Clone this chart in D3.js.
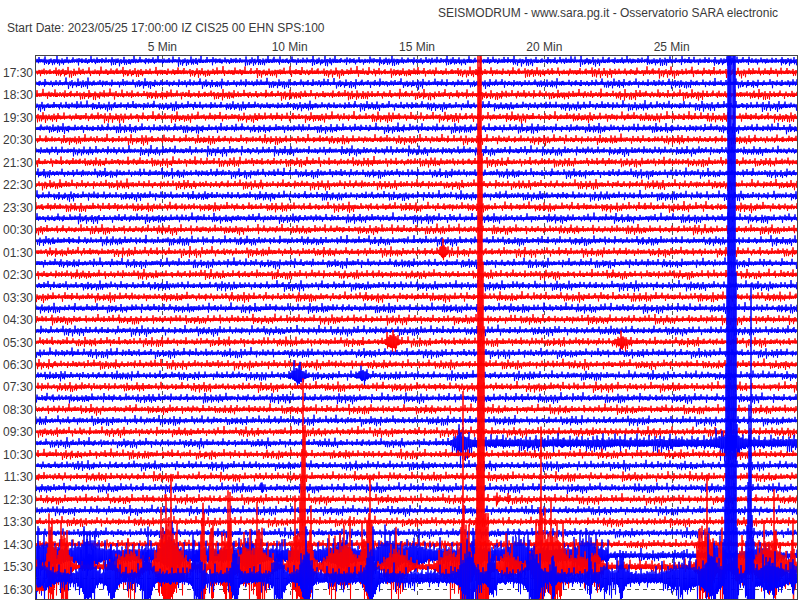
<!DOCTYPE html>
<html><head><meta charset="utf-8">
<script src="https://cdn.jsdelivr.net/npm/d3@7"></script>
<style>body{margin:0;background:#fff}svg{display:block}text{font-family:"Liberation Sans",Arial,sans-serif;font-size:12px;fill:#3a3a3a}</style>
</head><body><svg id="c" width="800" height="600"></svg>
<script>
const titleText = "SEISMODRUM - www.sara.pg.it - Osservatorio SARA electronic";
const headerText = "Start Date: 2023/05/25 17:00:00 IZ CIS25 00 EHN  SPS:100";
const minuteTicks = [5, 10, 15, 20, 25];
const tickLabels = ["5 Min", "10 Min", "15 Min", "20 Min", "25 Min"];
const hourLabels = ["17:30","18:30","19:30","20:30","21:30","22:30","23:30","00:30","01:30","02:30","03:30","04:30",
                    "05:30","06:30","07:30","08:30","09:30","10:30","11:30","12:30","13:30","14:30","15:30","16:30"];
const traceColors = ["#0000ff", "#ff0000"];
// background noise level of each 30-min trace (17:00 ... 16:30)
const noiseLevel = [1,1.05,1,1.05,1,1.05,1,1,1,1, 1,1,1,1,1,1,1,1,1,1, 1,1,1,1,1,1,1,1,1,1,
                    1,1,1,1,1,1,1,1,1,1, 1,1,1,1,1,1.1,1,1];
// [trace, from minute, to minute, extra level]
const noiseSteps = [[44, 0, 22.5, 2.3], [44, 22.5, 30, 0.3], [46, 0, 30, 1.7], [45, 0, 30, 0.3], [34, 16.6, 30, 1.0]];
// [trace, minute, half width (min), amplitude]
const events = [
  [17, 16.02, 0.12, 3.0],
  [25, 14.02, 0.2, 3.2], [25, 23.05, 0.2, 1.8],
  [28, 10.33, 0.25, 3.0], [28, 12.88, 0.18, 2.1],
  [34, 16.69, 0.3, 3.0], [34, 27.29, 0.5, 2.6],
  [38, 8.91, 0.05, 2.4],
  [39, 18.14, 0.05, 1.7], [39, 18.57, 0.05, 1.7],
  [44, 0.4, 0.5, 3], [44, 2.08, 0.4, 4], [44, 5.3, 0.3, 5], [44, 8.36, 0.35, 3.5], [44, 12.05, 0.35, 4],
  [44, 13.94, 0.45, 4], [44, 14.92, 0.3, 3], [44, 17.08, 0.3, 4], [44, 18.96, 0.35, 4.5], [44, 21.67, 0.4, 4.5],
  [44, 26.7, 0.3, 4], [44, 28.5, 0.5, 3],
  [45, 0.63, 0.15, 16], [45, 1.14, 0.2, 16], [45, 3.73, 0.5, 6], [45, 5.1, 0.3, 17], [45, 5.5, 0.4, 9],
  [45, 6.6, 0.07, 37], [45, 6.95, 0.08, 21], [45, 7.46, 0.3, 12], [45, 7.66, 0.06, 24], [45, 8.25, 0.25, 9],
  [45, 8.76, 0.1, 16], [45, 8.9, 0.4, 7], [45, 10.29, 0.25, 16], [45, 10.52, 0.08, 82], [45, 10.8, 0.15, 14],
  [45, 11.78, 0.4, 7], [45, 12.29, 0.3, 8], [45, 12.96, 0.2, 14], [45, 13.15, 0.07, 29], [45, 14.21, 0.4, 7],
  [45, 16.18, 0.35, 6], [45, 16.8, 0.06, 21], [45, 16.88, 0.25, 16], [45, 17.49, 0.1, 400], [45, 17.75, 0.1, 24],
  [45, 18.57, 0.4, 5], [45, 19.75, 0.2, 17], [45, 19.87, 0.06, 26], [45, 20.22, 0.3, 14], [45, 20.6, 0.3, 9],
  [45, 21.32, 0.4, 4], [45, 22.03, 0.2, 6], [45, 26.1, 0.06, 12], [45, 26.38, 0.3, 15], [45, 26.97, 0.1, 12],
  [45, 27.68, 0.3, 6], [45, 28.86, 0.6, 9], [45, 29.05, 0.06, 14], [45, 29.76, 0.08, 14],
  [46, 0.2, 0.4, 5], [46, 2.08, 0.25, 11], [46, 3.0, 0.2, 9], [46, 4.4, 0.2, 10], [46, 6.36, 0.2, 10],
  [46, 7.85, 0.15, 11], [46, 9.58, 0.2, 11], [46, 10.64, 0.2, 12], [46, 13.19, 0.2, 11], [46, 17.0, 0.3, 11],
  [46, 17.94, 0.15, 8], [46, 19.55, 0.3, 10], [46, 20.34, 0.06, 10], [46, 21.79, 0.06, 10], [46, 22.38, 0.2, 3],
  [46, 23.05, 0.2, 4], [46, 23.0, 0.05, 9], [46, 25.52, 0.6, 4], [46, 26.58, 0.3, 9], [46, 27.29, 0.13, 400],
  [46, 27.48, 0.05, 400], [46, 28.07, 0.1, 82], [46, 28.86, 0.5, 5], [46, 29.76, 0.06, 8]
];
const lastTraceEnd = 0.35; // minutes recorded in the current (16:30) trace
// waveform texture samples
const texA = [0.35,0.52,0.28,1.25,0.41,0.33,0.47,0.3,0.55,1.6,0.38,0.44,0.26,0.5,0.36,0.95,0.31,0.42,0.58,0.29,
  0.4,1.4,0.34,0.49,0.37,0.27,0.85,0.45,0.32,0.53,0.39,1.55,0.28,0.46,0.35,0.3,0.6,1.1,0.33,0.43,0.27,0.51,0.38,
  1.3,0.31,0.48,0.7,0.34,0.41,0.5,1.0,0.29,0.37,0.47,0.28,1.45,0.42,0.33,0.56,0.39,0.3,0.9,0.44,0.36,0.48,0.29,1.2];
const texB = [1.0,0.85,1.15,0.9,1.25,0.8,1.05,0.95,1.3,0.75,1.1,0.88,1.2,0.92,0.78,1.08,1.18,0.83,0.97,1.22,0.86,
  1.02,0.9,1.28,0.8,1.12,0.94,0.76,1.16,1.0,0.84,1.24,0.91,1.06,0.79,1.14,0.98,0.87,1.2,0.82,1.04,0.93,1.27,0.77,
  1.09,0.96,0.85,1.19,0.9,1.01,0.81,1.13,0.95,1.23,0.78,1.07,0.89,1.17,0.99];

const svg = d3.select("#c");
const x = d3.scaleLinear().domain([0, 30]).range([35, 799]);
const y = d3.scaleLinear().domain([0, 47]).range([61, 589.3]);
const amp = d3.scaleLinear().domain([0, 1]).range([0, 3.1]);
const pLeft = 35, pTop = 55, pRight = 797, pBottom = 599;

svg.append("text").attr("x", 438).attr("y", 17).text(titleText);
svg.append("text").attr("x", 7).attr("y", 32).text(headerText);

svg.selectAll("text.tick").data(minuteTicks).join("text").attr("class", "tick")
  .attr("x", d => x(d)).attr("y", 51).attr("text-anchor", "middle").text((d, i) => tickLabels[i]);

svg.selectAll("text.hour").data(hourLabels).join("text").attr("class", "hour")
  .attr("x", 33).attr("y", (d, i) => y(2 * i + 1) + 4.5).attr("text-anchor", "end").text(d => d);

svg.append("clipPath").attr("id", "clip").append("rect")
  .attr("x", pLeft + 1).attr("y", pTop + 1).attr("width", pRight - pLeft - 1).attr("height", pBottom - pTop - 1);
const plot = svg.append("g").attr("clip-path", "url(#clip)");

plot.selectAll("line.grid").data(minuteTicks).join("line").attr("class", "grid")
  .attr("x1", d => Math.round(x(d)) + 0.5).attr("x2", d => Math.round(x(d)) + 0.5)
  .attr("y1", pTop).attr("y2", pBottom)
  .attr("stroke", "#555").attr("stroke-dasharray", "4,4");

plot.selectAll("line.base").data([46, 47]).join("line").attr("class", "base")
  .attr("x1", pLeft).attr("x2", pRight).attr("y1", d => Math.round(y(d)) + 0.5).attr("y2", d => Math.round(y(d)) + 0.5)
  .attr("stroke", "#555").attr("stroke-dasharray", "4,4");

const nA = texA.length, nB = texB.length;
function eventLevel(i, t) {
  let e = 0;
  noiseSteps.forEach(s => { if (s[0] === i && t >= s[1] && t <= s[2]) e += s[3]; });
  events.forEach(ev => { if (ev[0] === i) { const d = (t - ev[1]) / ev[2]; if (Math.abs(d) < 4) e += ev[3] * Math.exp(-d * d); } });
  return e;
}
const line = d3.line();
for (let i = 0; i < 48; i++) {
  const tEnd = i === 47 ? lastTraceEnd : 30;
  const y0 = y(i);
  const pts = [];
  const xEnd = Math.min(pRight, x(tEnd));
  for (let px = pLeft + 1, c = 0; px <= xEnd; px++, c++) {
    const t = x.invert(px);
    const n = noiseLevel[i], e = eventLevel(i, t);
    const bu = texB[(2 * c + 11 * i) % nB], bv = texB[(c + 29 + 5 * i) % nB];
    const au = texA[(c + 23 * i) % nA], av = texA[(3 * c + 7 + 31 * i) % nA];
    const u = n * (0.15 + 0.85 * au) * bu + e * (0.3 + 0.75 * au * bu);
    const v = n * (0.15 + 0.85 * av) * bv + e * (0.3 + 0.75 * av * bv);
    pts.push([px, y0 - amp(u)]);
    pts.push([px + 0.5, y0 + amp(v)]);
  }
  plot.append("path").attr("d", line(pts)).attr("fill", "none")
    .attr("stroke", traceColors[i % 2]).attr("stroke-width", 1);
}

svg.append("rect").attr("x", pLeft + 0.5).attr("y", pTop + 0.5).attr("width", pRight - pLeft).attr("height", pBottom - pTop)
  .attr("fill", "none").attr("stroke", "#444");
</script></body></html>
